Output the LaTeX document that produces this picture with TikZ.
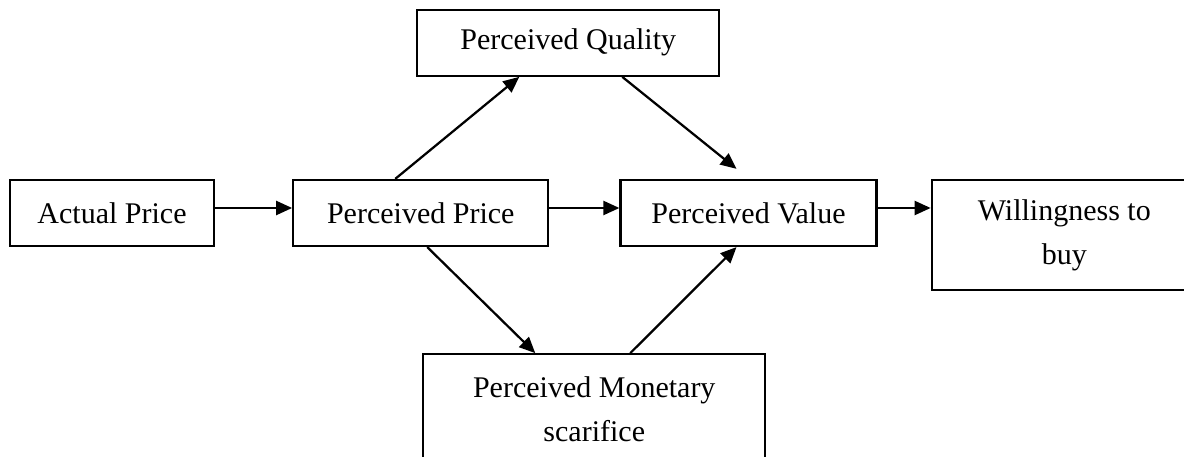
\documentclass[tikz,border=0pt]{standalone}
\usepackage{fontspec}
\setmainfont{Liberation Serif}
\usepackage{tikz}
\usetikzlibrary{positioning,arrows.meta}
\tikzset{
  % Specifications for style of nodes:
  base/.style = {
    rectangle,
    draw=black,
    line width=0.9pt,
    text centered,
    align=center,
    font={\fontsize{12}{17.6}\selectfont}
  },
  box/.style = {
    base,
    minimum width=102pt,
    minimum height=26.4pt
  },
  tallbox/.style = {
    base,
    minimum height=44pt
  },
  % Specifications for style of connectors:
  link/.style = {
    line width=0.9pt,
    -{Triangle[length=6.4pt,width=5.6pt]}
  },
}
\begin{document}
\begin{tikzpicture}[x=0.4pt,y=-0.4pt]
    \useasboundingbox (0,0) rectangle (1184,457);
    \clip (0,0) rectangle (1184,457);
    % Specification of nodes (position, etc.)
    \node[box, minimum width=81.6pt]                                      (actual)   at (112,213) {Actual Price};
    \node[box, right=30.8pt of actual]                                    (pprice)   {Perceived Price};
    \node[box, right=28pt of pprice, minimum width=102.4pt]               (pvalue)   {Perceived Value};
    \node[tallbox, minimum width=106pt, right=21.2pt of pvalue, yshift=-8.8pt] (willing) {Willingness to\\buy};
    \node[box, minimum width=120.8pt, above=40.8pt of pprice, xshift=59pt] (pquality) {Perceived Quality};
    \node[tallbox, minimum width=136.8pt, below=42.4pt of pprice, xshift=69.4pt] (monetary) {Perceived Monetary\\scarifice};
    % Specification of connectors
    \draw[link] ([yshift=2pt]actual.east) -- ([yshift=2pt]pprice.west);
    \draw[link] ([yshift=2pt]pprice.east) -- ([yshift=2pt]pvalue.west);
    \draw[link] ([yshift=2pt]pvalue.east) -- ([yshift=2pt]pvalue.east -| willing.west);
    \draw[link] ([xshift=-10.2pt]pprice.north) -- ([xshift=-19.6pt]pquality.south);
    \draw[link] ([xshift=21.6pt]pquality.south) -- ([xshift=-4.8pt,yshift=4pt]pvalue.north);
    \draw[link] ([xshift=2.6pt]pprice.south) -- ([xshift=-23.6pt]monetary.north);
    \draw[link] ([xshift=14.4pt]monetary.north) -- ([xshift=-4.8pt]pvalue.south);
\end{tikzpicture}
\end{document}
